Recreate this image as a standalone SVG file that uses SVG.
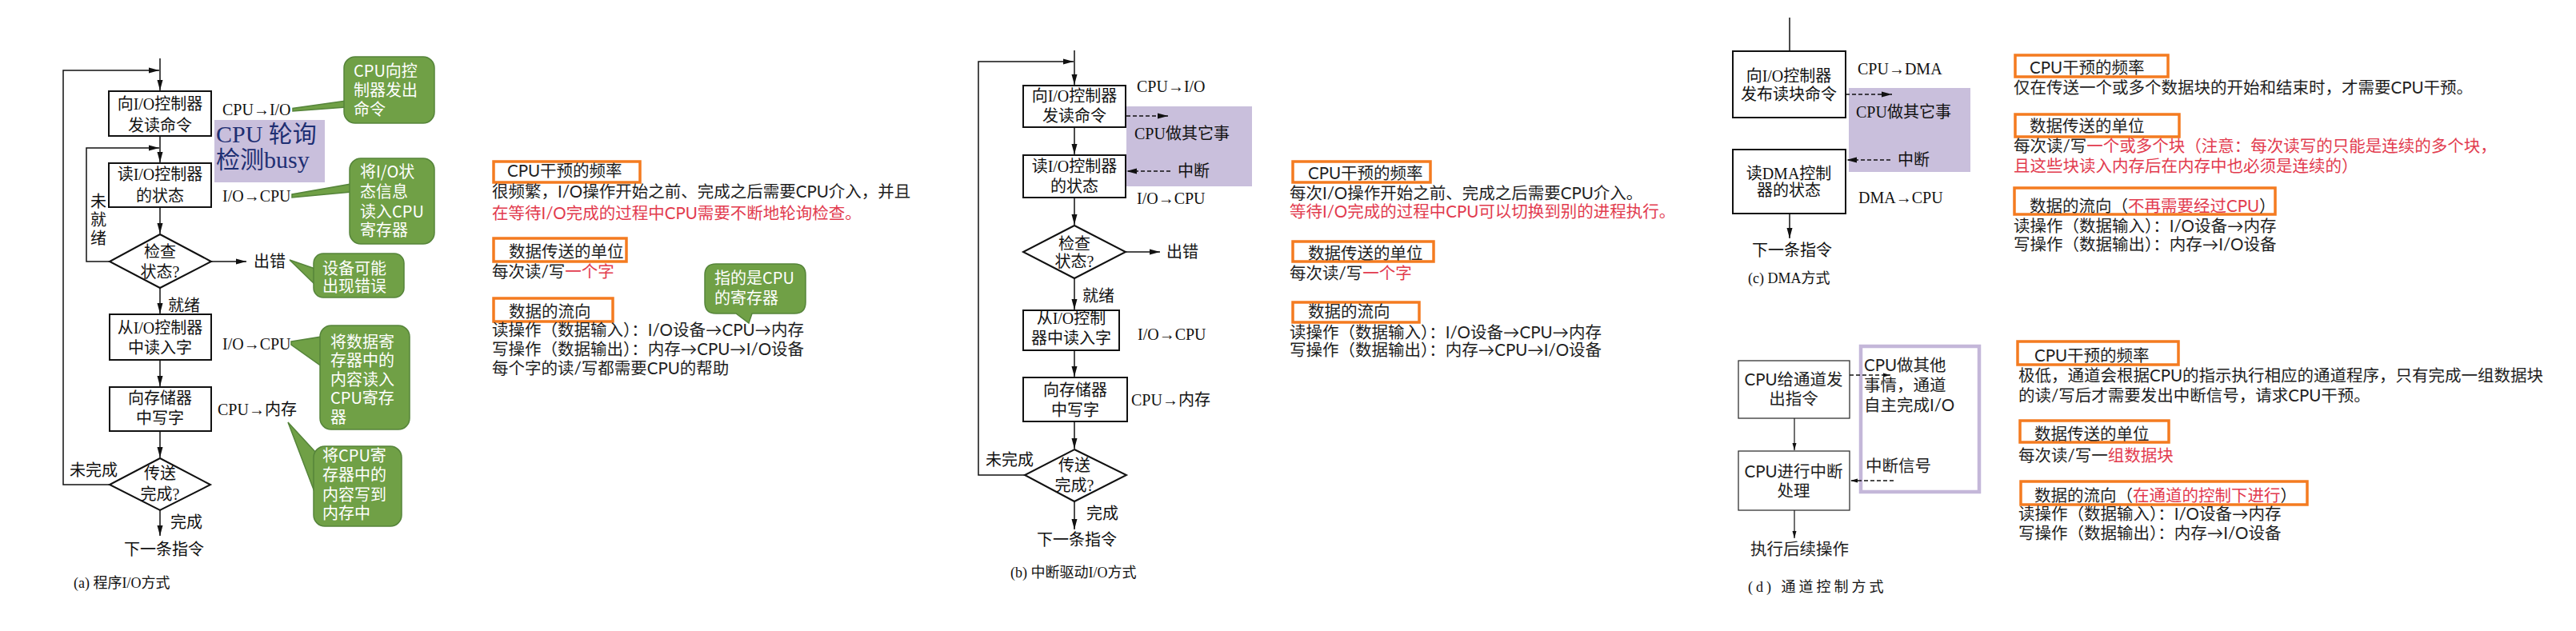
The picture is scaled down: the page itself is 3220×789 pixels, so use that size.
<svg xmlns="http://www.w3.org/2000/svg" width="3220" height="789" viewBox="0 0 3220 789">
<defs>
<style>
.bx{fill:#fff;stroke:#111;stroke-width:2}
.ln{stroke:#111;stroke-width:1.5;fill:none}
.ds{stroke:#111;stroke-width:1.3;stroke-dasharray:5 3;fill:none}
.fc{font-family:"Liberation Serif","Noto Sans CJK SC",serif;font-size:20px;fill:#111}
.mid{text-anchor:middle}
.cap{font-family:"Liberation Serif","Noto Sans CJK SC",serif;font-size:18px;fill:#111}
.tx{font-family:"Lato","Noto Sans CJK SC",sans-serif;font-size:20.5px;fill:#1e1e1e}
.red{fill:#e23b4e}
.ob{fill:none;stroke:#f47b20;stroke-width:3.5}
.call{fill:#70a046;stroke:#55843a;stroke-width:1.5}
.ct{font-family:"Noto Sans CJK SC",sans-serif;font-size:20px;fill:#fff}
.pu{fill:#c9bfdc}
.big{font-family:"Liberation Serif","Noto Sans CJK SC",serif;font-size:30px;fill:#1f2f73}
</style>
<marker id="ah" markerUnits="userSpaceOnUse" markerWidth="14" markerHeight="8" refX="13" refY="4" orient="auto"><path d="M0,0.5 L13,4 L0,7.5 z" fill="#111"/></marker>
<marker id="as" markerUnits="userSpaceOnUse" markerWidth="10" markerHeight="6" refX="9" refY="3" orient="auto"><path d="M0,0.5 L9,3 L0,5.5 z" fill="#111"/></marker>
</defs>
<rect width="3220" height="789" fill="#fff"/>

<!-- ===== (a) ===== -->
<g id="a-poll-bg"><rect class="pu" x="268" y="150" width="138" height="78"/><text class="big" x="270" y="178">CPU 轮询</text><text class="big" x="270" y="210">检测busy</text></g>
<g id="a-n1"><rect class="bx" x="136" y="114" width="128" height="56"/><text class="fc mid" x="200" y="137">向I/O控制器</text><text class="fc mid" x="200" y="164">发读命令</text></g>
<g id="a-n2"><rect class="bx" x="136" y="204" width="128" height="55"/><text class="fc mid" x="200" y="225">读I/O控制器</text><text class="fc mid" x="200" y="252">的状态</text></g>
<g id="a-n3"><polygon class="bx" points="200,293 264,327 200,360 137,327"/><text class="fc mid" x="200" y="322">检查</text><text class="fc mid" x="200" y="347">状态?</text></g>
<g id="a-n4"><rect class="bx" x="137" y="393" width="127" height="57"/><text class="fc mid" x="200" y="417">从I/O控制器</text><text class="fc mid" x="200" y="442">中读入字</text></g>
<g id="a-n5"><rect class="bx" x="137" y="484" width="127" height="55"/><text class="fc mid" x="200" y="505">向存储器</text><text class="fc mid" x="200" y="530">中写字</text></g>
<g id="a-n6"><polygon class="bx" points="200,573 263,606 200,638 137,606"/><text class="fc mid" x="200" y="599">传送</text><text class="fc mid" x="200" y="625">完成?</text></g>
<g id="a-labels">
<text class="fc" x="278" y="144">CPU→I/O</text>
<text class="fc" x="278" y="252">I/O→CPU</text>
<text class="fc" x="317" y="334">出错</text>
<text class="fc" x="210" y="389">就绪</text>
<text class="fc mid" x="123" y="259">未</text><text class="fc mid" x="123" y="282">就</text><text class="fc mid" x="123" y="305">绪</text>
<text class="fc" x="278" y="437">I/O→CPU</text>
<text class="fc" x="272" y="519">CPU→内存</text>
<text class="fc" x="87" y="595">未完成</text>
<text class="fc" x="213" y="660">完成</text>
<text class="fc mid" x="205" y="694">下一条指令</text>
<text class="cap" x="92" y="735">(a) 程序I/O方式</text>
</g>
<g id="a-callouts">
<polygon class="call" points="366,135.5 366,139 432,134 432,126"/>
<rect class="call" x="430" y="71" width="113" height="83" rx="14"/>
<text class="ct" x="442" y="96">CPU向控</text><text class="ct" x="442" y="120">制器发出</text><text class="ct" x="442" y="144">命令</text>
<polygon class="call" points="365,243 365,247 439,240 439,230"/>
<rect class="call" x="437" y="198" width="106" height="107" rx="14"/>
<text class="ct" x="450" y="222">将I/O状</text><text class="ct" x="450" y="247">态信息</text><text class="ct" x="450" y="272">读入CPU</text><text class="ct" x="450" y="295">寄存器</text>
<polygon class="call" points="362,325 394,336 394,356"/>
<rect class="call" x="392" y="317" width="113" height="55" rx="12"/>
<text class="ct" x="403" y="343">设备可能</text><text class="ct" x="403" y="365">出现错误</text>
<polygon class="call" points="364,427 402,421 402,458 364,431"/>
<rect class="call" x="400" y="407" width="112" height="130" rx="14"/>
<text class="ct" x="413" y="435">将数据寄</text><text class="ct" x="413" y="458">存器中的</text><text class="ct" x="413" y="482">内容读入</text><text class="ct" x="413" y="505">CPU寄存</text><text class="ct" x="413" y="529">器</text>
<polygon class="call" points="360,528 395,566 395,620"/>
<rect class="call" x="392" y="558" width="110" height="100" rx="14"/>
<text class="ct" x="403" y="577">将CPU寄</text><text class="ct" x="403" y="601">存器中的</text><text class="ct" x="403" y="626">内容写到</text><text class="ct" x="403" y="649">内存中</text>
</g>
<g id="a-text">
<rect class="ob" x="617" y="202" width="183" height="26"/>
<text class="tx" x="634" y="221">CPU干预的频率</text>
<text class="tx" x="615" y="247">很频繁，I/O操作开始之前、完成之后需要CPU介入，并且</text>
<text class="tx red" x="615" y="274">在等待I/O完成的过程中CPU需要不断地轮询检查。</text>
<rect class="ob" x="617" y="298" width="166" height="29"/>
<text class="tx" x="636" y="322">数据传送的单位</text>
<text class="tx" x="615" y="347">每次读/写<tspan class="red">一个字</tspan></text>
<rect class="ob" x="617" y="373" width="149" height="29"/>
<text class="tx" x="636" y="397">数据的流向</text>
<text class="tx" x="615" y="420">读操作（数据输入）：I/O设备→CPU→内存</text>
<text class="tx" x="615" y="444">写操作（数据输出）：内存→CPU→I/O设备</text>
<text class="tx" x="615" y="468">每个字的读/写都需要CPU的帮助</text>
<path class="call" d="M895,330 H993 Q1007,330 1007,344 V378 Q1007,392 993,392 H940 L936,404 L920,392 H895 Q881,392 881,378 V344 Q881,330 895,330 Z"/>
<text class="ct" x="893" y="355">指的是CPU</text><text class="ct" x="893" y="380">的寄存器</text>
</g>

<!-- ===== (b) ===== -->
<g id="b-bg"><rect class="pu" x="1408" y="133" width="157" height="100"/></g>
<g id="b-n1"><rect class="bx" x="1279" y="107" width="128" height="52"/><text class="fc mid" x="1343" y="127">向I/O控制器</text><text class="fc mid" x="1343" y="152">发读命令</text></g>
<g id="b-n2"><rect class="bx" x="1279" y="194" width="128" height="53"/><text class="fc mid" x="1343" y="215">读I/O控制器</text><text class="fc mid" x="1343" y="240">的状态</text></g>
<g id="b-n3"><polygon class="bx" points="1343,282 1407,315 1343,348 1279,315"/><text class="fc mid" x="1343" y="312">检查</text><text class="fc mid" x="1343" y="334">状态?</text></g>
<g id="b-n4"><rect class="bx" x="1279" y="388" width="120" height="50"/><text class="fc mid" x="1339" y="405">从I/O控制</text><text class="fc mid" x="1339" y="430">器中读入字</text></g>
<g id="b-n5"><rect class="bx" x="1279" y="472" width="130" height="55"/><text class="fc mid" x="1344" y="495">向存储器</text><text class="fc mid" x="1344" y="520">中写字</text></g>
<g id="b-n6"><polygon class="bx" points="1343,562 1408,594 1343,627 1281,594"/><text class="fc mid" x="1343" y="589">传送</text><text class="fc mid" x="1343" y="614">完成?</text></g>
<g id="b-labels">
<text class="fc" x="1421" y="115">CPU→I/O</text>
<text class="fc" x="1418" y="174">CPU做其它事</text>
<text class="fc" x="1472" y="221">中断</text>
<text class="fc" x="1421" y="255">I/O→CPU</text>
<text class="fc" x="1458" y="322">出错</text>
<text class="fc" x="1353" y="377">就绪</text>
<text class="fc" x="1422" y="425">I/O→CPU</text>
<text class="fc" x="1414" y="507">CPU→内存</text>
<text class="fc" x="1232" y="582">未完成</text>
<text class="fc" x="1358" y="649">完成</text>
<text class="fc mid" x="1346" y="682">下一条指令</text>
<text class="cap" x="1263" y="722">(b) 中断驱动I/O方式</text>
</g>
<g id="b-text">
<rect class="ob" x="1616" y="202" width="172" height="26"/>
<text class="tx" x="1635" y="224">CPU干预的频率</text>
<text class="tx" x="1612" y="249">每次I/O操作开始之前、完成之后需要CPU介入。</text>
<text class="tx red" x="1612" y="272">等待I/O完成的过程中CPU可以切换到别的进程执行。</text>
<rect class="ob" x="1616" y="302" width="176" height="25"/>
<text class="tx" x="1635" y="324">数据传送的单位</text>
<text class="tx" x="1612" y="349">每次读/写<tspan class="red">一个字</tspan></text>
<rect class="ob" x="1616" y="378" width="158" height="25"/>
<text class="tx" x="1635" y="397">数据的流向</text>
<text class="tx" x="1612" y="423">读操作（数据输入）：I/O设备→CPU→内存</text>
<text class="tx" x="1612" y="445">写操作（数据输出）：内存→CPU→I/O设备</text>
</g>

<!-- ===== (c) ===== -->
<g id="c-bg"><rect class="pu" x="2311" y="110" width="152" height="105"/></g>
<g id="c-n1"><rect class="bx" x="2166" y="64" width="141" height="83"/><text class="fc mid" x="2236" y="102">向I/O控制器</text><text class="fc mid" x="2236" y="125">发布读块命令</text></g>
<g id="c-n2"><rect class="bx" x="2166" y="187" width="141" height="80"/><text class="fc mid" x="2236" y="224">读DMA控制</text><text class="fc mid" x="2236" y="245">器的状态</text></g>
<g id="c-labels">
<text class="fc" x="2322" y="93">CPU→DMA</text>
<text class="fc" x="2320" y="147">CPU做其它事</text>
<text class="fc" x="2372" y="207">中断</text>
<text class="fc" x="2323" y="254">DMA→CPU</text>
<text class="fc mid" x="2240" y="320">下一条指令</text>
<text class="cap" x="2185" y="354">(c) DMA方式</text>
</g>
<g id="c-text">
<rect class="ob" x="2519" y="69" width="191" height="27"/>
<text class="tx" x="2537" y="92">CPU干预的频率</text>
<text class="tx" x="2517" y="117">仅在传送一个或多个数据块的开始和结束时，才需要CPU干预。</text>
<rect class="ob" x="2519" y="143" width="205" height="28"/>
<text class="tx" x="2537" y="165">数据传送的单位</text>
<text class="tx" x="2517" y="190">每次读/写<tspan class="red">一个或多个块（注意：每次读写的只能是连续的多个块，</tspan></text>
<text class="tx red" x="2517" y="215">且这些块读入内存后在内存中也必须是连续的）</text>
<rect class="ob" x="2518" y="235" width="326" height="33"/>
<text class="tx" x="2537" y="265">数据的流向（<tspan class="red">不再需要经过CPU</tspan>）</text>
<text class="tx" x="2517" y="290">读操作（数据输入）：I/O设备→内存</text>
<text class="tx" x="2517" y="313">写操作（数据输出）：内存→I/O设备</text>
</g>

<!-- ===== (d) ===== -->
<g id="d-frame"><rect x="2326" y="433" width="148" height="182" fill="none" stroke="#c4b7d9" stroke-width="4.5"/>
<text class="tx" x="2330" y="464">CPU做其他</text><text class="tx" x="2330" y="489">事情，通道</text><text class="tx" x="2330" y="514">自主完成I/O</text>
<text class="tx" x="2332" y="590">中断信号</text></g>
<g id="d-n1"><rect x="2173" y="451" width="139" height="72" fill="#fff" stroke="#333" stroke-width="1.3"/><text class="tx mid" x="2242" y="482">CPU给通道发</text><text class="tx mid" x="2242" y="506">出指令</text></g>
<g id="d-n2"><rect x="2173" y="564" width="139" height="74" fill="#fff" stroke="#333" stroke-width="1.3"/><text class="tx mid" x="2242" y="597">CPU进行中断</text><text class="tx mid" x="2242" y="621">处理</text></g>
<g id="d-labels">
<text class="tx" x="2188" y="694">执行后续操作</text>
<text class="cap" x="2185" y="740" style="letter-spacing:4px">(d) 通道控制方式</text>
</g>
<g id="d-text">
<rect class="ob" x="2522" y="427" width="201" height="29"/>
<text class="tx" x="2543" y="452">CPU干预的频率</text>
<text class="tx" x="2523" y="477">极低，通道会根据CPU的指示执行相应的通道程序，只有完成一组数据块</text>
<text class="tx" x="2523" y="502">的读/写后才需要发出中断信号，请求CPU干预。</text>
<rect class="ob" x="2525" y="526" width="186" height="27"/>
<text class="tx" x="2543" y="550">数据传送的单位</text>
<text class="tx" x="2523" y="577">每次读/写一<tspan class="red">组数据块</tspan></text>
<rect class="ob" x="2526" y="602" width="358" height="29"/>
<text class="tx" x="2543" y="627">数据的流向（<tspan class="red">在通道的控制下进行</tspan>）</text>
<text class="tx" x="2523" y="650">读操作（数据输入）：I/O设备→内存</text>
<text class="tx" x="2523" y="674">写操作（数据输出）：内存→I/O设备</text>
</g>

<!-- ===== connectors ===== -->
<g id="connectors">
<line class="ln" x1="200" y1="73" x2="200" y2="113" marker-end="url(#ah)"/>
<polyline class="ln" points="137,606 79,606 79,88 199,88" marker-end="url(#ah)"/>
<polyline class="ln" points="137,327 108,327 108,185 199,185" marker-end="url(#ah)"/>
<line class="ln" x1="200" y1="170" x2="200" y2="203" marker-end="url(#ah)"/>
<line class="ln" x1="200" y1="259" x2="200" y2="292" marker-end="url(#ah)"/>
<line class="ln" x1="264" y1="327" x2="308" y2="327" marker-end="url(#ah)"/>
<line class="ln" x1="200" y1="360" x2="200" y2="392" marker-end="url(#ah)"/>
<line class="ln" x1="200" y1="450" x2="200" y2="483" marker-end="url(#ah)"/>
<line class="ln" x1="200" y1="539" x2="200" y2="572" marker-end="url(#ah)"/>
<line class="ln" x1="200" y1="638" x2="200" y2="670" marker-end="url(#ah)"/>

<line class="ln" x1="1343" y1="63" x2="1343" y2="106" marker-end="url(#ah)"/>
<polyline class="ln" points="1281,594 1223,594 1223,77 1342,77" marker-end="url(#ah)"/>
<line class="ln" x1="1343" y1="159" x2="1343" y2="193" marker-end="url(#ah)"/>
<line class="ds" x1="1408" y1="145" x2="1460" y2="145" marker-end="url(#ah)"/>
<line class="ds" x1="1463" y1="214" x2="1408" y2="214" marker-end="url(#ah)"/>
<line class="ln" x1="1343" y1="247" x2="1343" y2="281" marker-end="url(#ah)"/>
<line class="ln" x1="1407" y1="315" x2="1450" y2="315" marker-end="url(#ah)"/>
<line class="ln" x1="1343" y1="348" x2="1343" y2="387" marker-end="url(#ah)"/>
<line class="ln" x1="1343" y1="438" x2="1343" y2="471" marker-end="url(#ah)"/>
<line class="ln" x1="1343" y1="527" x2="1343" y2="561" marker-end="url(#ah)"/>
<line class="ln" x1="1343" y1="627" x2="1343" y2="662" marker-end="url(#ah)"/>

<line class="ln" x1="2237" y1="22" x2="2237" y2="64"/>
<line class="ds" x1="2307" y1="118" x2="2365" y2="118" marker-end="url(#ah)"/>
<line class="ds" x1="2363" y1="200" x2="2308" y2="200" marker-end="url(#ah)"/>
<line class="ln" x1="2237" y1="267" x2="2237" y2="298" marker-end="url(#ah)"/>

<line class="ds" x1="2312" y1="469" x2="2363" y2="469" marker-end="url(#as)"/>
<line class="ds" x1="2367" y1="601" x2="2313" y2="601" marker-end="url(#as)"/>
<line x1="2243" y1="523" x2="2243" y2="563" stroke="#222" stroke-width="1.3" marker-end="url(#as)"/>
<line x1="2243" y1="638" x2="2243" y2="673" stroke="#222" stroke-width="1.3" marker-end="url(#as)"/>
</g>
</svg>
